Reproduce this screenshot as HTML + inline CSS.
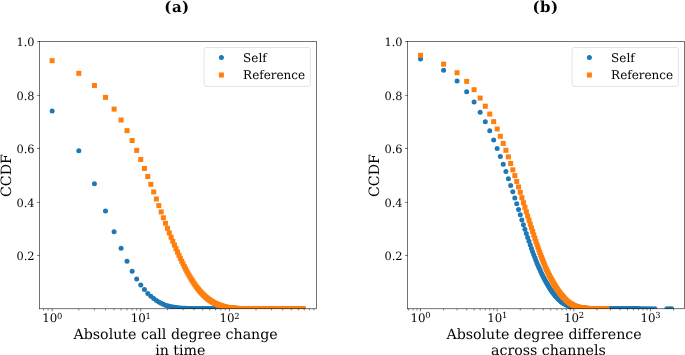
<!DOCTYPE html>
<html lang="en"><head><meta charset="utf-8"><title>CCDF plots</title>
<style>html,body{margin:0;padding:0;background:#fff;overflow:hidden}svg{display:block;font-variant-ligatures:none}</style>
</head><body>
<svg width="685" height="355" viewBox="0 0 685 355" text-rendering="geometricPrecision">
<defs><clipPath id="ca"><rect x="39.64" y="41.53" width="276.86" height="267.27"/></clipPath><clipPath id="cb"><rect x="407.6" y="41.53" width="276.90" height="267.27"/></clipPath></defs>
<rect width="685" height="355" fill="#fff"/>
<g fill="#1f77b4" clip-path="url(#ca)"><circle cx="52.15" cy="110.89" r="2.5"/><circle cx="78.82" cy="150.67" r="2.5"/><circle cx="94.42" cy="183.71" r="2.5"/><circle cx="105.49" cy="210.89" r="2.5"/><circle cx="114.08" cy="231.87" r="2.5"/><circle cx="121.09" cy="248.37" r="2.5"/><circle cx="127.03" cy="261.28" r="2.5"/><circle cx="132.16" cy="271.14" r="2.5"/><circle cx="136.70" cy="278.97" r="2.5"/><circle cx="140.75" cy="285.04" r="2.5"/><circle cx="144.42" cy="289.61" r="2.5"/><circle cx="147.77" cy="293.41" r="2.5"/><circle cx="150.85" cy="296.25" r="2.5"/><circle cx="153.70" cy="298.57" r="2.5"/><circle cx="156.35" cy="300.46" r="2.5"/><circle cx="158.84" cy="302.00" r="2.5"/><circle cx="161.17" cy="303.26" r="2.5"/><circle cx="163.37" cy="304.29" r="2.5"/><circle cx="165.45" cy="305.13" r="2.5"/><circle cx="167.42" cy="305.81" r="2.5"/><circle cx="169.30" cy="306.30" r="2.5"/><circle cx="171.09" cy="306.70" r="2.5"/><circle cx="172.80" cy="307.05" r="2.5"/><circle cx="174.44" cy="307.33" r="2.5"/><circle cx="176.01" cy="307.57" r="2.5"/><circle cx="177.52" cy="307.75" r="2.5"/><circle cx="178.97" cy="307.90" r="2.5"/><circle cx="180.37" cy="308.03" r="2.5"/><circle cx="181.72" cy="308.15" r="2.5"/><circle cx="183.02" cy="308.24" r="2.5"/><circle cx="184.28" cy="308.31" r="2.5"/><circle cx="185.51" cy="308.36" r="2.5"/><circle cx="186.69" cy="308.41" r="2.5"/><circle cx="187.84" cy="308.46" r="2.5"/><circle cx="188.95" cy="308.50" r="2.5"/><circle cx="190.04" cy="308.53" r="2.5"/><circle cx="191.09" cy="308.57" r="2.5"/><circle cx="192.12" cy="308.59" r="2.5"/><circle cx="193.12" cy="308.62" r="2.5"/><circle cx="194.09" cy="308.64" r="2.5"/><circle cx="195.04" cy="308.65" r="2.5"/><circle cx="195.97" cy="308.66" r="2.5"/><circle cx="196.88" cy="308.67" r="2.5"/><circle cx="197.76" cy="308.68" r="2.5"/><circle cx="198.62" cy="308.69" r="2.5"/><circle cx="199.47" cy="308.70" r="2.5"/><circle cx="200.30" cy="308.70" r="2.5"/><circle cx="201.11" cy="308.71" r="2.5"/><circle cx="201.90" cy="308.72" r="2.5"/><circle cx="202.68" cy="308.72" r="2.5"/><circle cx="203.44" cy="308.73" r="2.5"/><circle cx="204.19" cy="308.73" r="2.5"/><circle cx="204.92" cy="308.74" r="2.5"/><circle cx="205.64" cy="308.74" r="2.5"/><circle cx="206.35" cy="308.75" r="2.5"/><circle cx="207.04" cy="308.75" r="2.5"/><circle cx="207.72" cy="308.76" r="2.5"/><circle cx="208.39" cy="308.76" r="2.5"/><circle cx="209.05" cy="308.76" r="2.5"/><circle cx="209.69" cy="308.77" r="2.5"/><circle cx="210.33" cy="308.77" r="2.5"/><circle cx="210.96" cy="308.77" r="2.5"/><circle cx="211.57" cy="308.78" r="2.5"/><circle cx="212.18" cy="308.78" r="2.5"/><circle cx="212.77" cy="308.78" r="2.5"/><circle cx="213.36" cy="308.79" r="2.5"/><circle cx="213.94" cy="308.79" r="2.5"/><circle cx="214.51" cy="308.79" r="2.5"/><circle cx="215.07" cy="308.79" r="2.5"/><circle cx="215.63" cy="308.79" r="2.5"/><circle cx="216.17" cy="308.80" r="2.5"/><circle cx="216.71" cy="308.80" r="2.5"/><circle cx="217.24" cy="308.80" r="2.5"/><circle cx="217.76" cy="308.80" r="2.5"/><circle cx="218.28" cy="308.80" r="2.5"/></g>
<g fill="#ff7f0e" clip-path="url(#ca)"><rect x="49.65" y="58.17" width="5" height="5"/><rect x="76.32" y="70.84" width="5" height="5"/><rect x="91.92" y="83.00" width="5" height="5"/><rect x="102.99" y="94.90" width="5" height="5"/><rect x="111.58" y="106.63" width="5" height="5"/><rect x="118.59" y="117.51" width="5" height="5"/><rect x="124.53" y="128.15" width="5" height="5"/><rect x="129.66" y="138.01" width="5" height="5"/><rect x="134.20" y="147.90" width="5" height="5"/><rect x="138.25" y="157.02" width="5" height="5"/><rect x="141.92" y="165.92" width="5" height="5"/><rect x="145.27" y="174.02" width="5" height="5"/><rect x="148.35" y="181.85" width="5" height="5"/><rect x="151.20" y="189.41" width="5" height="5"/><rect x="153.85" y="196.47" width="5" height="5"/><rect x="156.34" y="203.10" width="5" height="5"/><rect x="158.67" y="209.41" width="5" height="5"/><rect x="160.87" y="215.26" width="5" height="5"/><rect x="162.95" y="220.79" width="5" height="5"/><rect x="164.92" y="225.87" width="5" height="5"/><rect x="166.80" y="230.42" width="5" height="5"/><rect x="168.59" y="234.71" width="5" height="5"/><rect x="170.30" y="238.75" width="5" height="5"/><rect x="171.94" y="242.57" width="5" height="5"/><rect x="173.51" y="246.17" width="5" height="5"/><rect x="175.02" y="249.57" width="5" height="5"/><rect x="176.47" y="252.78" width="5" height="5"/><rect x="177.87" y="255.81" width="5" height="5"/><rect x="179.22" y="258.66" width="5" height="5"/><rect x="180.52" y="261.35" width="5" height="5"/><rect x="181.78" y="263.89" width="5" height="5"/><rect x="183.01" y="266.28" width="5" height="5"/><rect x="184.19" y="268.53" width="5" height="5"/><rect x="185.34" y="270.64" width="5" height="5"/><rect x="186.45" y="272.64" width="5" height="5"/><rect x="187.54" y="274.51" width="5" height="5"/><rect x="188.59" y="276.28" width="5" height="5"/><rect x="189.62" y="277.94" width="5" height="5"/><rect x="190.62" y="279.51" width="5" height="5"/><rect x="191.59" y="280.99" width="5" height="5"/><rect x="192.54" y="282.38" width="5" height="5"/><rect x="193.47" y="283.68" width="5" height="5"/><rect x="194.38" y="284.91" width="5" height="5"/><rect x="195.26" y="286.07" width="5" height="5"/><rect x="196.12" y="287.15" width="5" height="5"/><rect x="196.97" y="288.18" width="5" height="5"/><rect x="197.80" y="289.14" width="5" height="5"/><rect x="198.61" y="290.05" width="5" height="5"/><rect x="199.40" y="290.90" width="5" height="5"/><rect x="200.18" y="291.71" width="5" height="5"/><rect x="200.94" y="292.47" width="5" height="5"/><rect x="201.69" y="293.18" width="5" height="5"/><rect x="202.42" y="293.86" width="5" height="5"/><rect x="203.14" y="294.50" width="5" height="5"/><rect x="203.85" y="295.10" width="5" height="5"/><rect x="204.54" y="295.67" width="5" height="5"/><rect x="205.22" y="296.22" width="5" height="5"/><rect x="205.89" y="296.73" width="5" height="5"/><rect x="206.55" y="297.21" width="5" height="5"/><rect x="207.19" y="297.67" width="5" height="5"/><rect x="207.83" y="298.10" width="5" height="5"/><rect x="208.46" y="298.51" width="5" height="5"/><rect x="209.07" y="298.90" width="5" height="5"/><rect x="209.68" y="299.27" width="5" height="5"/><rect x="210.27" y="299.62" width="5" height="5"/><rect x="210.86" y="299.96" width="5" height="5"/><rect x="211.44" y="300.27" width="5" height="5"/><rect x="212.01" y="300.57" width="5" height="5"/><rect x="212.57" y="300.86" width="5" height="5"/><rect x="213.13" y="301.13" width="5" height="5"/><rect x="213.67" y="301.39" width="5" height="5"/><rect x="214.21" y="301.63" width="5" height="5"/><rect x="214.74" y="301.86" width="5" height="5"/><rect x="215.26" y="302.08" width="5" height="5"/><rect x="215.78" y="302.29" width="5" height="5"/><rect x="216.29" y="302.49" width="5" height="5"/><rect x="216.79" y="302.68" width="5" height="5"/><rect x="217.29" y="302.86" width="5" height="5"/><rect x="217.78" y="303.03" width="5" height="5"/><rect x="218.26" y="303.19" width="5" height="5"/><rect x="218.74" y="303.34" width="5" height="5"/><rect x="219.21" y="303.49" width="5" height="5"/><rect x="219.68" y="303.63" width="5" height="5"/><rect x="220.14" y="303.76" width="5" height="5"/><rect x="220.60" y="303.89" width="5" height="5"/><rect x="221.05" y="304.00" width="5" height="5"/><rect x="221.93" y="304.22" width="5" height="5"/><rect x="222.80" y="304.42" width="5" height="5"/><rect x="223.64" y="304.60" width="5" height="5"/><rect x="224.47" y="304.76" width="5" height="5"/><rect x="225.28" y="304.91" width="5" height="5"/><rect x="226.07" y="305.04" width="5" height="5"/><rect x="226.85" y="305.16" width="5" height="5"/><rect x="227.61" y="305.26" width="5" height="5"/><rect x="228.36" y="305.36" width="5" height="5"/><rect x="229.09" y="305.45" width="5" height="5"/><rect x="229.81" y="305.53" width="5" height="5"/><rect x="230.52" y="305.60" width="5" height="5"/><rect x="231.21" y="305.66" width="5" height="5"/><rect x="231.89" y="305.72" width="5" height="5"/><rect x="232.56" y="305.77" width="5" height="5"/><rect x="233.22" y="305.82" width="5" height="5"/><rect x="233.87" y="305.86" width="5" height="5"/><rect x="234.50" y="305.90" width="5" height="5"/><rect x="235.13" y="305.94" width="5" height="5"/><rect x="235.74" y="305.97" width="5" height="5"/><rect x="236.35" y="306.00" width="5" height="5"/><rect x="236.95" y="306.03" width="5" height="5"/><rect x="237.53" y="306.05" width="5" height="5"/><rect x="238.11" y="306.08" width="5" height="5"/><rect x="238.68" y="306.10" width="5" height="5"/><rect x="239.24" y="306.11" width="5" height="5"/><rect x="239.80" y="306.13" width="5" height="5"/><rect x="240.34" y="306.15" width="5" height="5"/><rect x="240.88" y="306.16" width="5" height="5"/><rect x="241.41" y="306.17" width="5" height="5"/><rect x="241.94" y="306.19" width="5" height="5"/><rect x="242.45" y="306.20" width="5" height="5"/><rect x="242.96" y="306.21" width="5" height="5"/><rect x="243.46" y="306.22" width="5" height="5"/><rect x="243.96" y="306.22" width="5" height="5"/><rect x="244.45" y="306.23" width="5" height="5"/><rect x="244.94" y="306.24" width="5" height="5"/><rect x="245.41" y="306.24" width="5" height="5"/><rect x="245.89" y="306.25" width="5" height="5"/><rect x="246.35" y="306.26" width="5" height="5"/><rect x="246.81" y="306.26" width="5" height="5"/><rect x="247.27" y="306.26" width="5" height="5"/><rect x="247.72" y="306.27" width="5" height="5"/><rect x="248.38" y="306.27" width="5" height="5"/><rect x="249.04" y="306.28" width="5" height="5"/><rect x="249.68" y="306.28" width="5" height="5"/><rect x="250.31" y="306.29" width="5" height="5"/><rect x="250.94" y="306.29" width="5" height="5"/><rect x="251.55" y="306.29" width="5" height="5"/><rect x="252.15" y="306.30" width="5" height="5"/><rect x="252.74" y="306.30" width="5" height="5"/><rect x="253.33" y="306.30" width="5" height="5"/><rect x="253.90" y="306.30" width="5" height="5"/><rect x="254.47" y="306.31" width="5" height="5"/><rect x="255.03" y="306.31" width="5" height="5"/><rect x="255.58" y="306.31" width="5" height="5"/><rect x="256.12" y="306.31" width="5" height="5"/><rect x="256.66" y="306.31" width="5" height="5"/><rect x="257.19" y="306.31" width="5" height="5"/><rect x="257.71" y="306.31" width="5" height="5"/><rect x="258.22" y="306.32" width="5" height="5"/><rect x="258.73" y="306.32" width="5" height="5"/><rect x="259.23" y="306.32" width="5" height="5"/><rect x="259.73" y="306.32" width="5" height="5"/><rect x="260.21" y="306.32" width="5" height="5"/><rect x="260.70" y="306.32" width="5" height="5"/><rect x="261.17" y="306.32" width="5" height="5"/><rect x="261.64" y="306.32" width="5" height="5"/><rect x="262.11" y="306.32" width="5" height="5"/><rect x="262.57" y="306.32" width="5" height="5"/><rect x="263.02" y="306.32" width="5" height="5"/><rect x="263.62" y="306.32" width="5" height="5"/><rect x="264.20" y="306.32" width="5" height="5"/><rect x="264.78" y="306.32" width="5" height="5"/><rect x="265.35" y="306.32" width="5" height="5"/><rect x="265.91" y="306.32" width="5" height="5"/><rect x="266.47" y="306.32" width="5" height="5"/><rect x="267.01" y="306.32" width="5" height="5"/><rect x="267.55" y="306.32" width="5" height="5"/><rect x="268.08" y="306.32" width="5" height="5"/><rect x="268.61" y="306.32" width="5" height="5"/><rect x="269.12" y="306.32" width="5" height="5"/><rect x="269.63" y="306.32" width="5" height="5"/><rect x="270.14" y="306.32" width="5" height="5"/><rect x="270.63" y="306.32" width="5" height="5"/><rect x="271.12" y="306.32" width="5" height="5"/><rect x="271.61" y="306.32" width="5" height="5"/><rect x="272.08" y="306.32" width="5" height="5"/><rect x="272.56" y="306.32" width="5" height="5"/><rect x="273.02" y="306.32" width="5" height="5"/><rect x="273.48" y="306.32" width="5" height="5"/><rect x="273.94" y="306.32" width="5" height="5"/><rect x="274.39" y="306.32" width="5" height="5"/><rect x="274.94" y="306.32" width="5" height="5"/><rect x="275.49" y="306.32" width="5" height="5"/><rect x="276.03" y="306.32" width="5" height="5"/><rect x="276.56" y="306.32" width="5" height="5"/><rect x="277.09" y="306.32" width="5" height="5"/><rect x="277.61" y="306.32" width="5" height="5"/><rect x="278.12" y="306.32" width="5" height="5"/><rect x="278.62" y="306.32" width="5" height="5"/><rect x="279.12" y="306.32" width="5" height="5"/><rect x="279.61" y="306.32" width="5" height="5"/><rect x="280.10" y="306.32" width="5" height="5"/><rect x="280.58" y="306.32" width="5" height="5"/><rect x="281.05" y="306.32" width="5" height="5"/><rect x="281.52" y="306.32" width="5" height="5"/><rect x="281.98" y="306.32" width="5" height="5"/><rect x="282.43" y="306.32" width="5" height="5"/><rect x="282.89" y="306.32" width="5" height="5"/><rect x="283.42" y="306.32" width="5" height="5"/><rect x="283.95" y="306.32" width="5" height="5"/><rect x="284.47" y="306.32" width="5" height="5"/><rect x="284.98" y="306.32" width="5" height="5"/><rect x="285.49" y="306.32" width="5" height="5"/><rect x="285.99" y="306.32" width="5" height="5"/><rect x="286.48" y="306.32" width="5" height="5"/><rect x="286.97" y="306.32" width="5" height="5"/><rect x="287.45" y="306.32" width="5" height="5"/><rect x="287.92" y="306.32" width="5" height="5"/><rect x="288.39" y="306.32" width="5" height="5"/><rect x="288.86" y="306.32" width="5" height="5"/><rect x="289.31" y="306.32" width="5" height="5"/><rect x="289.77" y="306.32" width="5" height="5"/><rect x="290.29" y="306.32" width="5" height="5"/><rect x="290.80" y="306.32" width="5" height="5"/><rect x="291.31" y="306.32" width="5" height="5"/><rect x="291.81" y="306.32" width="5" height="5"/><rect x="292.31" y="306.32" width="5" height="5"/><rect x="292.79" y="306.32" width="5" height="5"/><rect x="293.28" y="306.32" width="5" height="5"/><rect x="293.75" y="306.32" width="5" height="5"/><rect x="294.22" y="306.32" width="5" height="5"/><rect x="294.69" y="306.32" width="5" height="5"/><rect x="295.15" y="306.32" width="5" height="5"/><rect x="295.60" y="306.32" width="5" height="5"/><rect x="296.11" y="306.32" width="5" height="5"/><rect x="296.62" y="306.32" width="5" height="5"/><rect x="297.12" y="306.32" width="5" height="5"/><rect x="297.61" y="306.32" width="5" height="5"/><rect x="298.10" y="306.32" width="5" height="5"/><rect x="298.58" y="306.32" width="5" height="5"/><rect x="299.05" y="306.32" width="5" height="5"/><rect x="299.52" y="306.32" width="5" height="5"/><rect x="299.98" y="306.32" width="5" height="5"/><rect x="300.44" y="306.32" width="5" height="5"/><rect x="300.89" y="306.32" width="5" height="5"/></g>
<g stroke="#000" stroke-width="0.55" fill="none"><path d="M39.64 255.45h-2.5"/><path d="M39.64 202.40h-2.5"/><path d="M39.64 148.50h-2.5"/><path d="M39.64 95.40h-2.5"/><path d="M39.64 41.53h-2.5"/><path d="M52.15 308.8v2.5"/><path d="M140.75 308.8v2.5"/><path d="M229.35 308.8v2.5"/></g><g stroke="#000" stroke-width="0.5" fill="none"><path d="M43.56 308.8v1.6"/><path d="M48.10 308.8v1.6"/><path d="M78.82 308.8v1.6"/><path d="M94.42 308.8v1.6"/><path d="M105.49 308.8v1.6"/><path d="M114.08 308.8v1.6"/><path d="M121.09 308.8v1.6"/><path d="M127.03 308.8v1.6"/><path d="M132.16 308.8v1.6"/><path d="M136.70 308.8v1.6"/><path d="M167.42 308.8v1.6"/><path d="M183.02 308.8v1.6"/><path d="M194.09 308.8v1.6"/><path d="M202.68 308.8v1.6"/><path d="M209.69 308.8v1.6"/><path d="M215.63 308.8v1.6"/><path d="M220.76 308.8v1.6"/><path d="M225.30 308.8v1.6"/><path d="M256.02 308.8v1.6"/><path d="M271.62 308.8v1.6"/><path d="M282.69 308.8v1.6"/><path d="M291.28 308.8v1.6"/><path d="M298.29 308.8v1.6"/><path d="M304.23 308.8v1.6"/><path d="M309.36 308.8v1.6"/><path d="M313.90 308.8v1.6"/></g>
<rect x="39.64" y="41.53" width="276.86" height="267.27" fill="none" stroke="#000" stroke-width="0.55"/>
<g font-family="DejaVu Serif, Liberation Serif, serif" font-size="11.4" fill="#000"><text x="34.64" y="259.75" text-anchor="end">0.2</text><text x="34.64" y="206.70" text-anchor="end">0.4</text><text x="34.64" y="152.80" text-anchor="end">0.6</text><text x="34.64" y="99.70" text-anchor="end">0.8</text><text x="34.64" y="45.83" text-anchor="end">1.0</text><text x="42.25" y="322.3" font-size="11.8">10<tspan dx="-0.3" dy="-3.8" font-size="8.4">0</tspan></text><text x="130.85" y="322.3" font-size="11.8">10<tspan dx="-0.3" dy="-3.8" font-size="8.4">1</tspan></text><text x="219.45" y="322.3" font-size="11.8">10<tspan dx="-0.3" dy="-3.8" font-size="8.4">2</tspan></text></g>
<rect x="204.1" y="47.5" width="106.3" height="38.9" rx="2.1" fill="#fff" fill-opacity="0.8" stroke="#ccc" stroke-opacity="0.8" stroke-width="0.7"/><circle cx="221.4" cy="57.55" r="2.5" fill="#1f77b4"/><rect x="218.9" y="72.5" width="5" height="5" fill="#ff7f0e"/><g font-family="DejaVu Serif, Liberation Serif, serif" font-size="12" fill="#000"><text x="243.1" y="61.7">Self</text><text x="243.1" y="79.2">Reference</text></g>
<g fill="#1f77b4" clip-path="url(#cb)"><circle cx="420.50" cy="59.06" r="2.5"/><circle cx="443.58" cy="70.21" r="2.5"/><circle cx="457.08" cy="81.09" r="2.5"/><circle cx="466.66" cy="91.76" r="2.5"/><circle cx="474.09" cy="102.10" r="2.5"/><circle cx="480.16" cy="112.31" r="2.5"/><circle cx="485.29" cy="121.64" r="2.5"/><circle cx="489.74" cy="130.81" r="2.5"/><circle cx="493.66" cy="139.90" r="2.5"/><circle cx="497.17" cy="148.50" r="2.5"/><circle cx="500.34" cy="156.60" r="2.5"/><circle cx="503.24" cy="164.22" r="2.5"/><circle cx="505.91" cy="171.60" r="2.5"/><circle cx="508.37" cy="178.65" r="2.5"/><circle cx="510.67" cy="185.50" r="2.5"/><circle cx="512.82" cy="191.81" r="2.5"/><circle cx="514.84" cy="197.90" r="2.5"/><circle cx="516.74" cy="203.86" r="2.5"/><circle cx="518.54" cy="209.49" r="2.5"/><circle cx="520.25" cy="214.83" r="2.5"/><circle cx="521.87" cy="219.88" r="2.5"/><circle cx="523.42" cy="224.65" r="2.5"/><circle cx="524.90" cy="229.17" r="2.5"/><circle cx="526.32" cy="233.45" r="2.5"/><circle cx="527.68" cy="237.50" r="2.5"/><circle cx="528.99" cy="241.33" r="2.5"/><circle cx="530.24" cy="244.96" r="2.5"/><circle cx="531.45" cy="248.39" r="2.5"/><circle cx="532.62" cy="251.63" r="2.5"/><circle cx="533.75" cy="254.70" r="2.5"/><circle cx="534.84" cy="257.61" r="2.5"/><circle cx="535.90" cy="260.36" r="2.5"/><circle cx="536.92" cy="262.96" r="2.5"/><circle cx="537.92" cy="265.36" r="2.5"/><circle cx="538.88" cy="267.54" r="2.5"/><circle cx="539.82" cy="269.60" r="2.5"/><circle cx="540.73" cy="271.57" r="2.5"/><circle cx="541.62" cy="273.43" r="2.5"/><circle cx="542.49" cy="275.21" r="2.5"/><circle cx="543.33" cy="276.89" r="2.5"/><circle cx="544.15" cy="278.49" r="2.5"/><circle cx="544.95" cy="280.01" r="2.5"/><circle cx="545.74" cy="281.45" r="2.5"/><circle cx="546.50" cy="282.82" r="2.5"/><circle cx="547.25" cy="284.12" r="2.5"/><circle cx="547.98" cy="285.36" r="2.5"/><circle cx="548.70" cy="286.54" r="2.5"/><circle cx="549.40" cy="287.65" r="2.5"/><circle cx="550.09" cy="288.71" r="2.5"/><circle cx="550.76" cy="289.72" r="2.5"/><circle cx="551.42" cy="290.68" r="2.5"/><circle cx="552.07" cy="291.59" r="2.5"/><circle cx="552.70" cy="292.45" r="2.5"/><circle cx="553.32" cy="293.27" r="2.5"/><circle cx="553.93" cy="294.05" r="2.5"/><circle cx="554.53" cy="294.79" r="2.5"/><circle cx="555.12" cy="295.49" r="2.5"/><circle cx="555.70" cy="296.16" r="2.5"/><circle cx="556.27" cy="296.82" r="2.5"/><circle cx="556.83" cy="297.45" r="2.5"/><circle cx="557.38" cy="298.04" r="2.5"/><circle cx="557.92" cy="298.60" r="2.5"/><circle cx="558.46" cy="299.14" r="2.5"/><circle cx="558.98" cy="299.64" r="2.5"/><circle cx="559.50" cy="300.12" r="2.5"/><circle cx="560.00" cy="300.58" r="2.5"/><circle cx="560.51" cy="301.01" r="2.5"/><circle cx="561.00" cy="301.42" r="2.5"/><circle cx="561.48" cy="301.80" r="2.5"/><circle cx="561.96" cy="302.17" r="2.5"/><circle cx="562.44" cy="302.52" r="2.5"/><circle cx="562.90" cy="302.85" r="2.5"/><circle cx="563.36" cy="303.16" r="2.5"/><circle cx="563.81" cy="303.45" r="2.5"/><circle cx="564.70" cy="304.00" r="2.5"/><circle cx="565.57" cy="304.49" r="2.5"/><circle cx="566.41" cy="304.93" r="2.5"/><circle cx="567.23" cy="305.33" r="2.5"/><circle cx="568.03" cy="305.68" r="2.5"/><circle cx="568.82" cy="306.00" r="2.5"/><circle cx="569.58" cy="306.29" r="2.5"/><circle cx="570.33" cy="306.56" r="2.5"/><circle cx="571.06" cy="306.80" r="2.5"/><circle cx="571.78" cy="307.02" r="2.5"/><circle cx="572.48" cy="307.21" r="2.5"/><circle cx="573.17" cy="307.38" r="2.5"/><circle cx="573.84" cy="307.54" r="2.5"/><circle cx="574.50" cy="307.67" r="2.5"/><circle cx="575.15" cy="307.80" r="2.5"/><circle cx="575.78" cy="307.91" r="2.5"/><circle cx="576.40" cy="308.01" r="2.5"/><circle cx="577.01" cy="308.09" r="2.5"/><circle cx="577.61" cy="308.17" r="2.5"/><circle cx="578.20" cy="308.24" r="2.5"/><circle cx="578.78" cy="308.28" r="2.5"/><circle cx="579.35" cy="308.32" r="2.5"/><circle cx="579.91" cy="308.35" r="2.5"/><circle cx="580.46" cy="308.39" r="2.5"/><circle cx="581.00" cy="308.42" r="2.5"/><circle cx="581.54" cy="308.44" r="2.5"/><circle cx="582.06" cy="308.47" r="2.5"/><circle cx="582.58" cy="308.49" r="2.5"/><circle cx="583.08" cy="308.52" r="2.5"/><circle cx="583.59" cy="308.54" r="2.5"/><circle cx="584.08" cy="308.56" r="2.5"/><circle cx="584.56" cy="308.58" r="2.5"/><circle cx="585.04" cy="308.59" r="2.5"/><circle cx="585.52" cy="308.61" r="2.5"/><circle cx="585.98" cy="308.62" r="2.5"/><circle cx="586.44" cy="308.62" r="2.5"/><circle cx="586.89" cy="308.63" r="2.5"/><circle cx="587.56" cy="308.64" r="2.5"/><circle cx="588.22" cy="308.64" r="2.5"/><circle cx="588.86" cy="308.65" r="2.5"/><circle cx="589.49" cy="308.66" r="2.5"/><circle cx="590.11" cy="308.66" r="2.5"/><circle cx="590.72" cy="308.67" r="2.5"/><circle cx="591.31" cy="308.68" r="2.5"/><circle cx="591.90" cy="308.68" r="2.5"/><circle cx="592.47" cy="308.69" r="2.5"/><circle cx="593.04" cy="308.69" r="2.5"/><circle cx="593.60" cy="308.70" r="2.5"/><circle cx="594.14" cy="308.70" r="2.5"/><circle cx="594.68" cy="308.71" r="2.5"/><circle cx="595.21" cy="308.71" r="2.5"/><circle cx="595.73" cy="308.72" r="2.5"/><circle cx="596.25" cy="308.72" r="2.5"/><circle cx="596.75" cy="308.73" r="2.5"/><circle cx="597.25" cy="308.73" r="2.5"/><circle cx="597.74" cy="308.73" r="2.5"/><circle cx="598.23" cy="308.74" r="2.5"/><circle cx="598.70" cy="308.74" r="2.5"/><circle cx="599.17" cy="308.74" r="2.5"/><circle cx="599.64" cy="308.75" r="2.5"/><circle cx="600.09" cy="308.75" r="2.5"/><circle cx="600.54" cy="308.75" r="2.5"/><circle cx="601.14" cy="308.76" r="2.5"/><circle cx="601.72" cy="308.76" r="2.5"/><circle cx="602.29" cy="308.77" r="2.5"/><circle cx="602.85" cy="308.77" r="2.5"/><circle cx="603.40" cy="308.77" r="2.5"/><circle cx="603.95" cy="308.77" r="2.5"/><circle cx="604.48" cy="308.78" r="2.5"/><circle cx="605.01" cy="308.78" r="2.5"/><circle cx="605.53" cy="308.78" r="2.5"/><circle cx="606.04" cy="308.78" r="2.5"/><circle cx="606.54" cy="308.78" r="2.5"/><circle cx="607.04" cy="308.78" r="2.5"/><circle cx="607.52" cy="308.78" r="2.5"/><circle cx="608.00" cy="308.78" r="2.5"/><circle cx="608.48" cy="308.78" r="2.5"/><circle cx="608.95" cy="308.78" r="2.5"/><circle cx="609.41" cy="308.79" r="2.5"/><circle cx="609.86" cy="308.79" r="2.5"/><circle cx="610.42" cy="308.79" r="2.5"/><circle cx="610.97" cy="308.79" r="2.5"/><circle cx="611.51" cy="308.79" r="2.5"/><circle cx="612.05" cy="308.79" r="2.5"/><circle cx="612.57" cy="308.79" r="2.5"/><circle cx="613.09" cy="308.79" r="2.5"/><circle cx="613.59" cy="308.79" r="2.5"/><circle cx="614.10" cy="308.79" r="2.5"/><circle cx="614.59" cy="308.79" r="2.5"/><circle cx="615.07" cy="308.80" r="2.5"/><circle cx="615.55" cy="308.80" r="2.5"/><circle cx="616.03" cy="308.80" r="2.5"/><circle cx="616.49" cy="308.80" r="2.5"/><circle cx="616.95" cy="308.80" r="2.5"/><circle cx="617.40" cy="308.80" r="2.5"/><circle cx="617.94" cy="308.80" r="2.5"/><circle cx="618.47" cy="308.80" r="2.5"/><circle cx="618.99" cy="308.80" r="2.5"/><circle cx="619.50" cy="308.80" r="2.5"/><circle cx="620.00" cy="308.80" r="2.5"/><circle cx="620.50" cy="308.80" r="2.5"/><circle cx="620.98" cy="308.80" r="2.5"/><circle cx="621.47" cy="308.80" r="2.5"/><circle cx="621.94" cy="308.80" r="2.5"/><circle cx="622.41" cy="308.80" r="2.5"/><circle cx="622.87" cy="308.80" r="2.5"/><circle cx="623.32" cy="308.80" r="2.5"/><circle cx="623.85" cy="308.80" r="2.5"/><circle cx="624.36" cy="308.80" r="2.5"/><circle cx="624.87" cy="308.80" r="2.5"/><circle cx="625.37" cy="308.80" r="2.5"/><circle cx="625.86" cy="308.80" r="2.5"/><circle cx="626.35" cy="308.80" r="2.5"/><circle cx="626.83" cy="308.80" r="2.5"/><circle cx="627.30" cy="308.80" r="2.5"/><circle cx="627.76" cy="308.80" r="2.5"/><circle cx="628.22" cy="308.80" r="2.5"/><circle cx="628.67" cy="308.80" r="2.5"/><circle cx="629.18" cy="308.80" r="2.5"/><circle cx="629.68" cy="308.80" r="2.5"/><circle cx="630.18" cy="308.80" r="2.5"/><circle cx="630.66" cy="308.81" r="2.5"/><circle cx="631.14" cy="308.81" r="2.5"/><circle cx="631.62" cy="308.81" r="2.5"/><circle cx="632.08" cy="308.81" r="2.5"/><circle cx="632.54" cy="308.81" r="2.5"/><circle cx="633.00" cy="308.81" r="2.5"/><circle cx="633.50" cy="308.81" r="2.5"/><circle cx="634.00" cy="308.81" r="2.5"/><circle cx="634.49" cy="308.81" r="2.5"/><circle cx="634.97" cy="308.81" r="2.5"/><circle cx="635.44" cy="308.81" r="2.5"/><circle cx="635.91" cy="308.81" r="2.5"/><circle cx="636.37" cy="308.81" r="2.5"/><circle cx="636.83" cy="308.81" r="2.5"/><circle cx="637.32" cy="308.81" r="2.5"/><circle cx="637.82" cy="308.81" r="2.5"/><circle cx="638.30" cy="308.81" r="2.5"/><circle cx="639.34" cy="308.81" r="2.5"/><circle cx="640.71" cy="308.81" r="2.5"/><circle cx="643.00" cy="308.81" r="2.5"/><circle cx="645.10" cy="308.81" r="2.5"/><circle cx="647.19" cy="308.81" r="2.5"/><circle cx="649.32" cy="308.81" r="2.5"/><circle cx="651.98" cy="308.81" r="2.5"/><circle cx="654.90" cy="308.81" r="2.5"/><circle cx="666.90" cy="308.81" r="2.5"/><circle cx="669.33" cy="308.82" r="2.5"/><circle cx="671.60" cy="308.82" r="2.5"/></g>
<g fill="#ff7f0e" clip-path="url(#cb)"><rect x="418.00" y="52.80" width="5" height="5"/><rect x="441.08" y="61.62" width="5" height="5"/><rect x="454.58" y="70.25" width="5" height="5"/><rect x="464.16" y="78.86" width="5" height="5"/><rect x="471.59" y="87.20" width="5" height="5"/><rect x="477.66" y="95.59" width="5" height="5"/><rect x="482.79" y="103.72" width="5" height="5"/><rect x="487.24" y="111.55" width="5" height="5"/><rect x="491.16" y="119.14" width="5" height="5"/><rect x="494.67" y="126.49" width="5" height="5"/><rect x="497.84" y="133.84" width="5" height="5"/><rect x="500.74" y="140.92" width="5" height="5"/><rect x="503.41" y="147.82" width="5" height="5"/><rect x="505.87" y="154.37" width="5" height="5"/><rect x="508.17" y="160.95" width="5" height="5"/><rect x="510.32" y="167.31" width="5" height="5"/><rect x="512.34" y="173.11" width="5" height="5"/><rect x="514.24" y="178.93" width="5" height="5"/><rect x="516.04" y="184.49" width="5" height="5"/><rect x="517.75" y="189.81" width="5" height="5"/><rect x="519.37" y="195.16" width="5" height="5"/><rect x="520.92" y="200.09" width="5" height="5"/><rect x="522.40" y="204.80" width="5" height="5"/><rect x="523.82" y="209.30" width="5" height="5"/><rect x="525.18" y="213.60" width="5" height="5"/><rect x="526.49" y="217.71" width="5" height="5"/><rect x="527.74" y="221.64" width="5" height="5"/><rect x="528.95" y="225.39" width="5" height="5"/><rect x="530.12" y="228.98" width="5" height="5"/><rect x="531.25" y="232.41" width="5" height="5"/><rect x="532.34" y="235.69" width="5" height="5"/><rect x="533.40" y="238.82" width="5" height="5"/><rect x="534.42" y="241.81" width="5" height="5"/><rect x="535.42" y="244.67" width="5" height="5"/><rect x="536.38" y="247.40" width="5" height="5"/><rect x="537.32" y="250.02" width="5" height="5"/><rect x="538.23" y="252.51" width="5" height="5"/><rect x="539.12" y="254.90" width="5" height="5"/><rect x="539.99" y="257.18" width="5" height="5"/><rect x="540.83" y="259.36" width="5" height="5"/><rect x="541.65" y="261.44" width="5" height="5"/><rect x="542.45" y="263.43" width="5" height="5"/><rect x="543.24" y="265.33" width="5" height="5"/><rect x="544.00" y="267.02" width="5" height="5"/><rect x="544.75" y="268.61" width="5" height="5"/><rect x="545.48" y="270.14" width="5" height="5"/><rect x="546.20" y="271.61" width="5" height="5"/><rect x="546.90" y="273.01" width="5" height="5"/><rect x="547.59" y="274.36" width="5" height="5"/><rect x="548.26" y="275.66" width="5" height="5"/><rect x="548.92" y="276.90" width="5" height="5"/><rect x="549.57" y="278.09" width="5" height="5"/><rect x="550.20" y="279.23" width="5" height="5"/><rect x="550.82" y="280.33" width="5" height="5"/><rect x="551.43" y="281.38" width="5" height="5"/><rect x="552.03" y="282.39" width="5" height="5"/><rect x="552.62" y="283.37" width="5" height="5"/><rect x="553.20" y="284.33" width="5" height="5"/><rect x="553.77" y="285.25" width="5" height="5"/><rect x="554.33" y="286.13" width="5" height="5"/><rect x="554.88" y="286.97" width="5" height="5"/><rect x="555.42" y="287.78" width="5" height="5"/><rect x="555.96" y="288.56" width="5" height="5"/><rect x="556.48" y="289.30" width="5" height="5"/><rect x="557.00" y="290.01" width="5" height="5"/><rect x="557.50" y="290.69" width="5" height="5"/><rect x="558.01" y="291.35" width="5" height="5"/><rect x="558.50" y="291.97" width="5" height="5"/><rect x="558.98" y="292.57" width="5" height="5"/><rect x="559.46" y="293.15" width="5" height="5"/><rect x="559.94" y="293.70" width="5" height="5"/><rect x="560.40" y="294.23" width="5" height="5"/><rect x="560.86" y="294.73" width="5" height="5"/><rect x="561.31" y="295.22" width="5" height="5"/><rect x="562.20" y="296.15" width="5" height="5"/><rect x="563.07" y="297.05" width="5" height="5"/><rect x="563.91" y="297.87" width="5" height="5"/><rect x="564.73" y="298.61" width="5" height="5"/><rect x="565.53" y="299.29" width="5" height="5"/><rect x="566.32" y="299.91" width="5" height="5"/><rect x="567.08" y="300.48" width="5" height="5"/><rect x="567.83" y="300.99" width="5" height="5"/><rect x="568.56" y="301.46" width="5" height="5"/><rect x="569.28" y="301.89" width="5" height="5"/><rect x="569.98" y="302.28" width="5" height="5"/><rect x="570.67" y="302.64" width="5" height="5"/><rect x="571.34" y="302.96" width="5" height="5"/><rect x="572.00" y="303.26" width="5" height="5"/><rect x="572.65" y="303.53" width="5" height="5"/><rect x="573.28" y="303.78" width="5" height="5"/><rect x="573.90" y="304.00" width="5" height="5"/><rect x="574.51" y="304.21" width="5" height="5"/><rect x="575.11" y="304.39" width="5" height="5"/><rect x="575.70" y="304.56" width="5" height="5"/><rect x="576.28" y="304.72" width="5" height="5"/><rect x="576.85" y="304.86" width="5" height="5"/><rect x="577.41" y="304.97" width="5" height="5"/><rect x="577.96" y="305.08" width="5" height="5"/><rect x="578.50" y="305.18" width="5" height="5"/><rect x="579.04" y="305.27" width="5" height="5"/><rect x="579.56" y="305.35" width="5" height="5"/><rect x="580.08" y="305.43" width="5" height="5"/><rect x="580.58" y="305.50" width="5" height="5"/><rect x="581.09" y="305.56" width="5" height="5"/><rect x="581.58" y="305.62" width="5" height="5"/><rect x="582.06" y="305.68" width="5" height="5"/><rect x="582.54" y="305.73" width="5" height="5"/><rect x="583.02" y="305.77" width="5" height="5"/><rect x="583.48" y="305.81" width="5" height="5"/><rect x="583.94" y="305.84" width="5" height="5"/><rect x="584.39" y="305.87" width="5" height="5"/><rect x="585.06" y="305.91" width="5" height="5"/><rect x="585.72" y="305.94" width="5" height="5"/><rect x="586.36" y="305.98" width="5" height="5"/><rect x="586.99" y="306.01" width="5" height="5"/><rect x="587.61" y="306.03" width="5" height="5"/><rect x="588.22" y="306.06" width="5" height="5"/><rect x="588.81" y="306.08" width="5" height="5"/><rect x="589.40" y="306.10" width="5" height="5"/><rect x="589.97" y="306.12" width="5" height="5"/><rect x="590.54" y="306.14" width="5" height="5"/><rect x="591.10" y="306.16" width="5" height="5"/><rect x="591.64" y="306.17" width="5" height="5"/><rect x="592.18" y="306.18" width="5" height="5"/><rect x="592.71" y="306.20" width="5" height="5"/><rect x="593.23" y="306.20" width="5" height="5"/><rect x="593.75" y="306.21" width="5" height="5"/><rect x="594.25" y="306.22" width="5" height="5"/><rect x="594.75" y="306.22" width="5" height="5"/><rect x="595.24" y="306.23" width="5" height="5"/><rect x="595.73" y="306.24" width="5" height="5"/><rect x="596.20" y="306.24" width="5" height="5"/><rect x="596.67" y="306.25" width="5" height="5"/><rect x="597.14" y="306.25" width="5" height="5"/><rect x="597.59" y="306.26" width="5" height="5"/><rect x="598.04" y="306.26" width="5" height="5"/><rect x="598.64" y="306.26" width="5" height="5"/><rect x="599.22" y="306.27" width="5" height="5"/><rect x="599.79" y="306.27" width="5" height="5"/><rect x="600.35" y="306.28" width="5" height="5"/><rect x="600.90" y="306.28" width="5" height="5"/><rect x="601.45" y="306.29" width="5" height="5"/><rect x="601.98" y="306.29" width="5" height="5"/><rect x="602.51" y="306.29" width="5" height="5"/><rect x="603.03" y="306.29" width="5" height="5"/><rect x="603.54" y="306.30" width="5" height="5"/><rect x="604.04" y="306.30" width="5" height="5"/><rect x="604.54" y="306.30" width="5" height="5"/></g>
<g stroke="#000" stroke-width="0.55" fill="none"><path d="M407.60 255.45h-2.5"/><path d="M407.60 202.40h-2.5"/><path d="M407.60 148.50h-2.5"/><path d="M407.60 95.40h-2.5"/><path d="M407.60 41.53h-2.5"/><path d="M420.50 308.8v2.5"/><path d="M497.17 308.8v2.5"/><path d="M573.84 308.8v2.5"/><path d="M650.51 308.8v2.5"/></g><g stroke="#000" stroke-width="0.5" fill="none"><path d="M408.62 308.8v1.6"/><path d="M413.07 308.8v1.6"/><path d="M416.99 308.8v1.6"/><path d="M443.58 308.8v1.6"/><path d="M457.08 308.8v1.6"/><path d="M466.66 308.8v1.6"/><path d="M474.09 308.8v1.6"/><path d="M480.16 308.8v1.6"/><path d="M485.29 308.8v1.6"/><path d="M489.74 308.8v1.6"/><path d="M493.66 308.8v1.6"/><path d="M520.25 308.8v1.6"/><path d="M533.75 308.8v1.6"/><path d="M543.33 308.8v1.6"/><path d="M550.76 308.8v1.6"/><path d="M556.83 308.8v1.6"/><path d="M561.96 308.8v1.6"/><path d="M566.41 308.8v1.6"/><path d="M570.33 308.8v1.6"/><path d="M596.92 308.8v1.6"/><path d="M610.42 308.8v1.6"/><path d="M620.00 308.8v1.6"/><path d="M627.43 308.8v1.6"/><path d="M633.50 308.8v1.6"/><path d="M638.63 308.8v1.6"/><path d="M643.08 308.8v1.6"/><path d="M647.00 308.8v1.6"/><path d="M673.59 308.8v1.6"/></g>
<rect x="407.6" y="41.53" width="276.90" height="267.27" fill="none" stroke="#000" stroke-width="0.55"/>
<g font-family="DejaVu Serif, Liberation Serif, serif" font-size="11.4" fill="#000"><text x="402.60" y="259.75" text-anchor="end">0.2</text><text x="402.60" y="206.70" text-anchor="end">0.4</text><text x="402.60" y="152.80" text-anchor="end">0.6</text><text x="402.60" y="99.70" text-anchor="end">0.8</text><text x="402.60" y="45.83" text-anchor="end">1.0</text><text x="410.60" y="322.3" font-size="11.8">10<tspan dx="-0.3" dy="-4.4" font-size="8.4">0</tspan></text><text x="487.27" y="322.3" font-size="11.8">10<tspan dx="-0.3" dy="-4.4" font-size="8.4">1</tspan></text><text x="563.94" y="322.3" font-size="11.8">10<tspan dx="-0.3" dy="-4.4" font-size="8.4">2</tspan></text><text x="640.61" y="322.3" font-size="11.8">10<tspan dx="-0.3" dy="-4.4" font-size="8.4">3</tspan></text></g>
<rect x="572.1" y="47.5" width="106.3" height="38.9" rx="2.1" fill="#fff" fill-opacity="0.8" stroke="#ccc" stroke-opacity="0.8" stroke-width="0.7"/><circle cx="589.4" cy="57.55" r="2.5" fill="#1f77b4"/><rect x="586.9" y="72.5" width="5" height="5" fill="#ff7f0e"/><g font-family="DejaVu Serif, Liberation Serif, serif" font-size="12" fill="#000"><text x="611.1" y="61.7">Self</text><text x="611.1" y="79.2">Reference</text></g>
<g font-family="DejaVu Serif, Liberation Serif, serif" font-size="14.2" fill="#000"><text x="73.5" y="338.8">Absolute call degree change</text><text x="155.2" y="354.5">in time</text><text x="446.4" y="338.8">Absolute degree difference</text><text x="491.0" y="354.5">across channels</text><text transform="translate(10.8 175.6) rotate(-90)" text-anchor="middle">CCDF</text><text transform="translate(378.8 175.6) rotate(-90)" text-anchor="middle">CCDF</text></g>
<g font-family="DejaVu Serif, Liberation Serif, serif" font-size="15.0" font-weight="bold" fill="#000" text-anchor="middle" letter-spacing="0.45"><text x="177.0" y="12.1">(a)</text><text x="545.6" y="12.1">(b)</text></g>
</svg>
</body></html>
